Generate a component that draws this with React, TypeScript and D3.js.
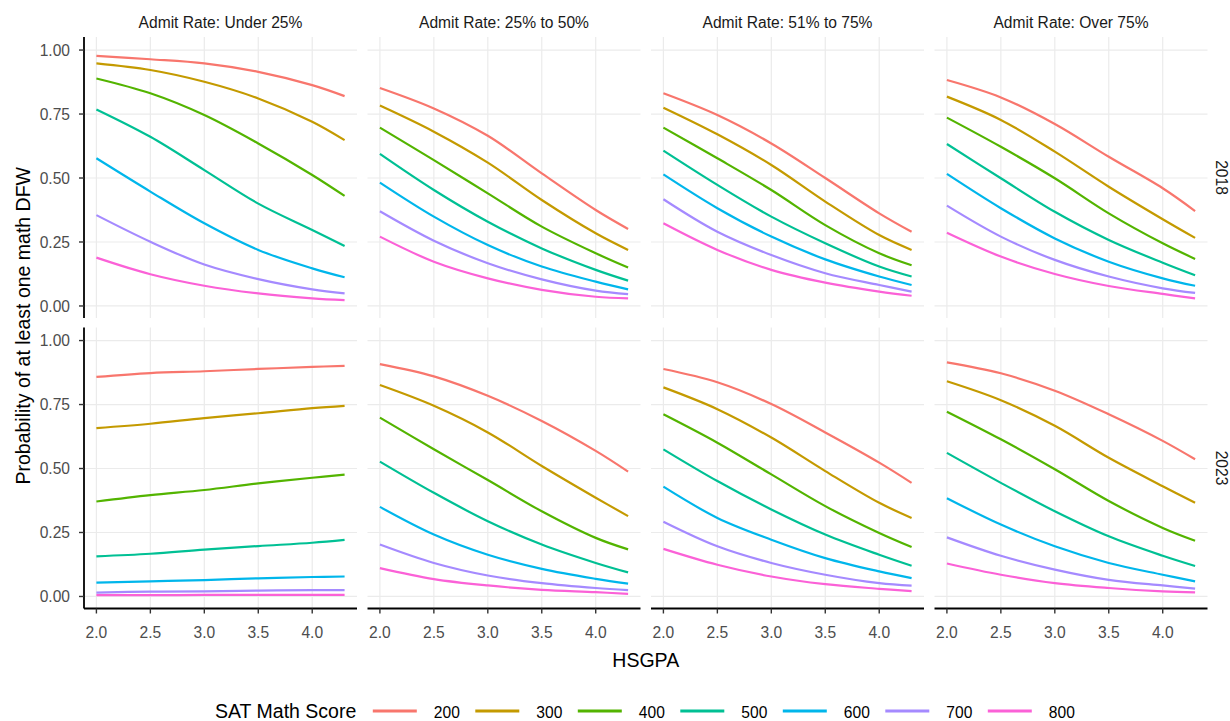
import React from "react";
import * as d3 from "d3";

// ---------- data ----------
const gpaPoints = [2.0, 2.5, 3.0, 3.5, 4.0, 4.3];
const satScores = ["200", "300", "400", "500", "600", "700", "800"];
const satColors = ["#F8766D", "#C49A00", "#53B400", "#00C094", "#00B6EB", "#A58AFF", "#FB61D7"];
const admitRates = ["Admit Rate: Under 25%", "Admit Rate: 25% to 50%", "Admit Rate: 51% to 75%", "Admit Rate: Over 75%"];
const years = ["2018", "2023"];
const xTicks = [2.0, 2.5, 3.0, 3.5, 4.0];
const xTickLabels = ["2.0", "2.5", "3.0", "3.5", "4.0"];
const yTicks = [0, 0.25, 0.5, 0.75, 1.0];
const yTickLabels = ["0.00", "0.25", "0.50", "0.75", "1.00"];

// rows: SAT 200..800, columns: HSGPA 2.0, 2.5, 3.0, 3.5, 4.0, 4.3
const p2018Under25 = [
  [0.977, 0.964, 0.948, 0.915, 0.863, 0.82],
  [0.948, 0.922, 0.876, 0.811, 0.72, 0.648],
  [0.889, 0.831, 0.746, 0.635, 0.512, 0.43],
  [0.768, 0.661, 0.531, 0.4, 0.297, 0.234],
  [0.577, 0.447, 0.323, 0.219, 0.147, 0.112],
  [0.355, 0.251, 0.162, 0.105, 0.065, 0.049],
  [0.189, 0.124, 0.079, 0.049, 0.03, 0.023],
];
const p2018From25To50 = [
  [0.852, 0.772, 0.665, 0.518, 0.375, 0.301],
  [0.783, 0.681, 0.56, 0.414, 0.284, 0.219],
  [0.697, 0.57, 0.44, 0.31, 0.206, 0.15],
  [0.594, 0.453, 0.329, 0.225, 0.141, 0.099],
  [0.482, 0.349, 0.238, 0.154, 0.095, 0.065],
  [0.37, 0.255, 0.167, 0.104, 0.06, 0.046],
  [0.271, 0.173, 0.108, 0.063, 0.036, 0.03],
];
const p2018From51To75 = [
  [0.831, 0.746, 0.635, 0.5, 0.362, 0.29],
  [0.775, 0.671, 0.551, 0.408, 0.277, 0.219],
  [0.697, 0.577, 0.453, 0.316, 0.206, 0.159],
  [0.607, 0.473, 0.349, 0.245, 0.154, 0.115],
  [0.514, 0.382, 0.271, 0.182, 0.115, 0.082],
  [0.417, 0.29, 0.199, 0.128, 0.082, 0.056],
  [0.323, 0.219, 0.141, 0.091, 0.056, 0.04],
];
const p2018Over75 = [
  [0.883, 0.815, 0.711, 0.583, 0.46, 0.371],
  [0.818, 0.727, 0.603, 0.466, 0.339, 0.266],
  [0.736, 0.622, 0.499, 0.362, 0.245, 0.184],
  [0.633, 0.499, 0.368, 0.258, 0.169, 0.12],
  [0.516, 0.382, 0.264, 0.173, 0.108, 0.079],
  [0.392, 0.271, 0.18, 0.115, 0.069, 0.051],
  [0.286, 0.193, 0.125, 0.078, 0.047, 0.03],
];
const p2023Under25 = [
  [0.858, 0.873, 0.88, 0.889, 0.897, 0.901],
  [0.658, 0.675, 0.697, 0.716, 0.736, 0.745],
  [0.371, 0.396, 0.416, 0.442, 0.464, 0.476],
  [0.157, 0.167, 0.183, 0.197, 0.21, 0.221],
  [0.054, 0.059, 0.064, 0.071, 0.076, 0.078],
  [0.015, 0.019, 0.02, 0.023, 0.025, 0.025],
  [0.005, 0.005, 0.006, 0.006, 0.006, 0.006],
];
const p2023From25To50 = [
  [0.908, 0.86, 0.784, 0.686, 0.569, 0.488],
  [0.826, 0.745, 0.641, 0.51, 0.386, 0.314],
  [0.699, 0.575, 0.455, 0.333, 0.229, 0.184],
  [0.527, 0.405, 0.294, 0.203, 0.131, 0.094],
  [0.35, 0.242, 0.163, 0.108, 0.069, 0.05],
  [0.203, 0.131, 0.082, 0.052, 0.033, 0.025],
  [0.111, 0.068, 0.043, 0.026, 0.017, 0.01],
];
const p2023From51To75 = [
  [0.889, 0.837, 0.752, 0.641, 0.523, 0.444],
  [0.817, 0.732, 0.621, 0.49, 0.366, 0.307],
  [0.712, 0.601, 0.477, 0.353, 0.248, 0.193],
  [0.575, 0.451, 0.34, 0.242, 0.163, 0.12],
  [0.429, 0.307, 0.222, 0.15, 0.098, 0.072],
  [0.292, 0.196, 0.131, 0.085, 0.052, 0.042],
  [0.186, 0.124, 0.078, 0.048, 0.03, 0.021],
];
const p2023Over75 = [
  [0.915, 0.872, 0.804, 0.712, 0.608, 0.536],
  [0.841, 0.767, 0.667, 0.542, 0.431, 0.366],
  [0.722, 0.614, 0.497, 0.373, 0.268, 0.218],
  [0.561, 0.444, 0.333, 0.235, 0.159, 0.119],
  [0.384, 0.281, 0.196, 0.131, 0.085, 0.059],
  [0.231, 0.159, 0.105, 0.065, 0.043, 0.031],
  [0.129, 0.085, 0.052, 0.033, 0.02, 0.016],
];

const panelData = [
  [p2018Under25, p2018From25To50, p2018From51To75, p2018Over75],
  [p2023Under25, p2023From25To50, p2023From51To75, p2023Over75],
];

// ---------- layout ----------
const W = 1230;
const H = 721;
const left0 = 84;
const top0 = 37;
const panelW = 273;
const panelH = 281;
const gapX = 10.5;
const gapY = 9.5;
const FONT = "'Liberation Sans', Arial, Helvetica, sans-serif";
const smallFont = 15.6;
const bigFont = 19.5;

const xDomain: [number, number] = [1.885, 4.415];
const yDomain: [number, number] = [-0.047, 1.051];

export default function App() {
  const line = d3.line<[number, number]>().curve(d3.curveCatmullRom.alpha(0.5));

  const panels: React.ReactNode[] = [];
  years.forEach((yr, r) => {
    const top = top0 + r * (panelH + gapY);
    const y = d3.scaleLinear().domain(yDomain).range([top + panelH, top]);
    admitRates.forEach((ar, c) => {
      const left = left0 + c * (panelW + gapX);
      const x = d3.scaleLinear().domain(xDomain).range([left, left + panelW]);
      const data = panelData[r][c];
      panels.push(
        <g key={`p-${r}-${c}`}>
          {yTicks.map((t) => (
            <line key={`gy${t}`} x1={left} x2={left + panelW} y1={y(t)} y2={y(t)} stroke="#EBEBEB" strokeWidth={1.2} />
          ))}
          {xTicks.map((t) => (
            <line key={`gx${t}`} x1={x(t)} x2={x(t)} y1={top} y2={top + panelH} stroke="#EBEBEB" strokeWidth={1.2} />
          ))}
          {data.map((vals, i) => (
            <path
              key={`l${i}`}
              d={line(gpaPoints.map((g, j) => [x(g), y(vals[j])] as [number, number])) || ""}
              fill="none"
              stroke={satColors[i]}
              strokeWidth={2.2}
              strokeLinejoin="round"
              strokeLinecap="butt"
            />
          ))}
          {c === 0 && (
            <g>
              <line x1={left} x2={left} y1={top} y2={top + panelH} stroke="#000" strokeWidth={1.8} />
              {yTicks.map((t, k) => (
                <g key={`yt${t}`}>
                  <line x1={left - 5} x2={left} y1={y(t)} y2={y(t)} stroke="#333" strokeWidth={1.4} />
                  <text x={left - 14} y={y(t)} dy="0.36em" textAnchor="end" fontSize={smallFont} fill="#4D4D4D" fontFamily={FONT}>
                    {yTickLabels[k]}
                  </text>
                </g>
              ))}
            </g>
          )}
          {r === 1 && (
            <g>
              <line x1={left} x2={left + panelW} y1={top + panelH} y2={top + panelH} stroke="#000" strokeWidth={1.8} />
              {xTicks.map((t, k) => (
                <g key={`xt${t}`}>
                  <line x1={x(t)} x2={x(t)} y1={top + panelH} y2={top + panelH + 5} stroke="#333" strokeWidth={1.4} />
                  <text x={x(t)} y={top + panelH + 29} textAnchor="middle" fontSize={smallFont} fill="#4D4D4D" fontFamily={FONT}>
                    {xTickLabels[k]}
                  </text>
                </g>
              ))}
            </g>
          )}
          {r === 0 && (
            <text x={left + panelW / 2} y={28} textAnchor="middle" fontSize={smallFont} fill="#1A1A1A" fontFamily={FONT}>
              {ar}
            </text>
          )}
          {c === admitRates.length - 1 && (
            <text
              transform={`translate(${left + panelW + 8},${top + panelH / 2}) rotate(90)`}
              textAnchor="middle"
              fontSize={smallFont}
              fill="#1A1A1A"
              fontFamily={FONT}
            >
              {yr}
            </text>
          )}
        </g>
      );
    });
  });

  const plotCenterX = left0 + (admitRates.length * panelW + (admitRates.length - 1) * gapX) / 2;
  const plotCenterY = top0 + (2 * panelH + gapY) / 2;

  const legendX0 = 372.8;
  const legendStep = 102.5;

  return (
    <div style={{ position: "fixed", left: 0, top: 0, width: W, height: H, background: "#fff" }}>
      <svg width={W} height={H} style={{ display: "block" }}>
        <rect x={0} y={0} width={W} height={H} fill="#fff" />
        {panels}
        <text x={plotCenterX} y={667} textAnchor="middle" fontSize={bigFont} fill="#000" fontFamily={FONT}>
          HSGPA
        </text>
        <text
          transform={`translate(30,${plotCenterY + 3}) rotate(-90)`}
          textAnchor="middle"
          fontSize={bigFont}
          fill="#000"
          fontFamily={FONT}
        >
          Probability of at least one math DFW
        </text>
        <text x={215} y={718} fontSize={bigFont} fill="#000" fontFamily={FONT}>
          SAT Math Score
        </text>
        {satScores.map((s, i) => {
          const lx = legendX0 + i * legendStep;
          return (
            <g key={`lg${s}`}>
              <line x1={lx} x2={lx + 44} y1={711} y2={711} stroke={satColors[i]} strokeWidth={2.8} />
              <text x={lx + 61} y={718} fontSize={smallFont} fill="#000" fontFamily={FONT}>
                {s}
              </text>
            </g>
          );
        })}
      </svg>
    </div>
  );
}
